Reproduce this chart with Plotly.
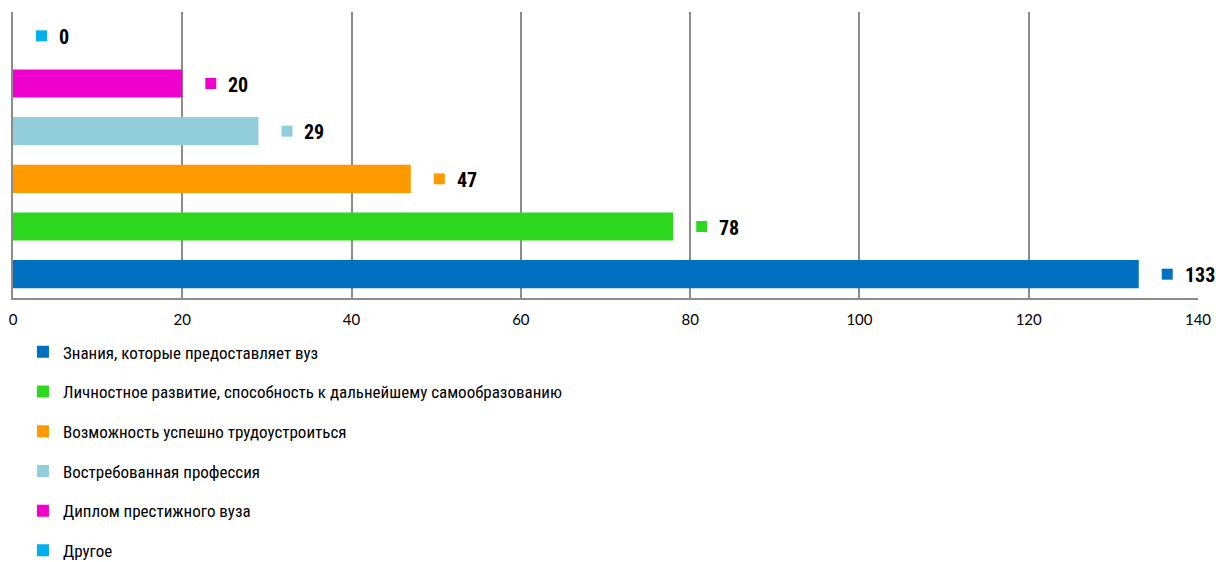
import plotly.graph_objects as go

categories = [
    "Знания, которые предоставляет вуз",
    "Личностное развитие, способность к дальнейшему самообразованию",
    "Возможность успешно трудоустроиться",
    "Востребованная профессия",
    "Диплом престижного вуза",
    "Другое",
]
values = [133, 78, 47, 29, 20, 0]
colors = ["#0070C0", "#2CD81E", "#FF9900", "#92CDDC", "#F000CC", "#00B0F0"]
x_ticks = [0, 20, 40, 60, 80, 100, 120, 140]

NARROW = "Liberation Sans Narrow, Arial Narrow, Roboto Condensed, Roboto, sans-serif"

fig = go.Figure()
for i, (cat, val, col) in enumerate(zip(categories, values, colors)):
    fig.add_trace(go.Bar(
        y=[cat], x=[val], orientation="h", name=cat,
        marker=dict(color=col, line=dict(width=0)),
        width=0.59, legendgroup=f"g{i}",
    ))
    # data label key square
    fig.add_shape(type="rect", xref="x", yref="y",
                  xsizemode="pixel", ysizemode="pixel",
                  xanchor=val, yanchor=cat,
                  x0=23, x1=34, y0=-5.5, y1=5.5,
                  fillcolor=col, line=dict(width=0), layer="above")
    fig.add_annotation(x=val, y=cat, xref="x", yref="y",
                       text=f"<b>{val}</b>", showarrow=False,
                       xanchor="left", xshift=44, yshift=-1,
                       font=dict(family=NARROW, size=20, color="#000000"))

fig.update_layout(
    width=1216, height=562,
    margin=dict(l=13, r=18, t=12, b=264, autoexpand=False),
    plot_bgcolor="white", paper_bgcolor="white",
    barmode="relative",
    showlegend=True,
    legend=dict(
        orientation="v", x=0.0084, y=-0.127, xanchor="left", yanchor="top",
        font=dict(family=NARROW, size=17, color="#000000"),
        tracegroupgap=14.6, itemwidth=30, bgcolor="rgba(0,0,0,0)",
    ),
    xaxis=dict(
        range=[0, 140], tickvals=x_ticks, showgrid=True,
        gridcolor="#8C8C8C", gridwidth=1.5,
        showline=True, linecolor="#8C8C8C", linewidth=1.5,
        zeroline=False, ticks="", ticklen=0, automargin=False,
        ticklabelstandoff=7,
        tickfont=dict(family="Lato, Open Sans, sans-serif", size=15, color="#000000"),
        mirror=False,
    ),
    yaxis=dict(
        categoryorder="array", categoryarray=categories,
        showticklabels=False, showgrid=False, automargin=False,
        showline=True, linecolor="#8C8C8C", linewidth=1.5,
        ticks="", range=[-0.5, 5.5],
    ),
)

fig.write_html("out.html", config={"displayModeBar": False},
               post_script="document.body.style.margin='0';")
